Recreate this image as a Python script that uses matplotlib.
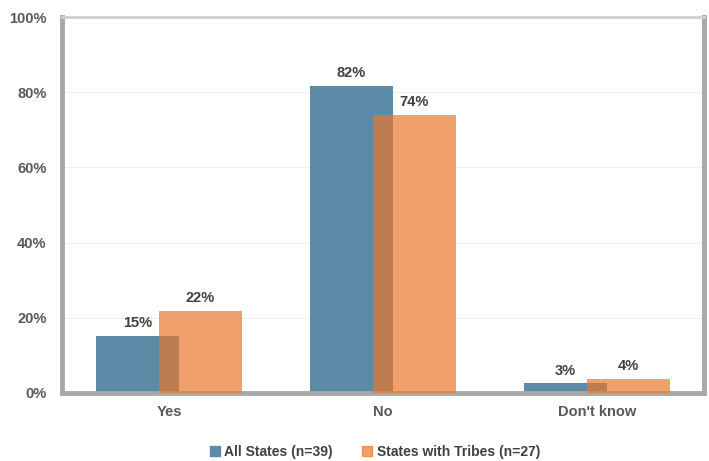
import matplotlib
matplotlib.use("Agg")
import matplotlib.pyplot as plt
import numpy as np
from matplotlib.patches import Patch

categories = ["Yes", "No", "Don't know"]
all_states = [15.2, 81.7, 2.6]
tribes_states = [21.9, 73.9, 3.7]
all_labels = ["15%", "82%", "3%"]
tribe_labels = ["22%", "74%", "4%"]
yticks = [0, 20, 40, 60, 80, 100]
series_names = ["All States (n=39)", "States with Tribes (n=27)"]

plt.rcParams['font.family'] = ['Liberation Sans', 'DejaVu Sans']

blue = '#5b8ba6'
orange = '#ea7628'
fs = 10.5

fig = plt.figure(figsize=(7.09, 4.61), dpi=100)
ax = fig.add_axes([62/709, 1-393/461, (704-62)/709, (393-17)/461])

x = np.arange(len(categories))
w = 0.392
off = 0.147
b1 = ax.bar(x - off, all_states, w, color=blue, zorder=2)
b2 = ax.bar(x + off, tribes_states, w, color=orange, alpha=0.69, zorder=3)

for rect, lab in zip(b1, all_labels):
    ax.text(rect.get_x() + rect.get_width()/2, rect.get_height() + 1.5, lab,
            ha='center', va='bottom', fontsize=fs, fontweight='bold', color='#404040')
for rect, lab in zip(b2, tribe_labels):
    ax.text(rect.get_x() + rect.get_width()/2, rect.get_height() + 1.5, lab,
            ha='center', va='bottom', fontsize=fs, fontweight='bold', color='#404040')

ax.set_xlim(-0.5, 2.5)
ax.set_ylim(0, 100)
ax.set_yticks(yticks)
ax.set_yticklabels([f"{v}%" for v in yticks])
ax.set_xticks(x)
ax.set_xticklabels(categories)
ax.tick_params(axis='both', length=0, labelsize=fs, labelcolor='#595959')
ax.tick_params(axis='y', pad=11)
ax.tick_params(axis='x', pad=9)
for lab in ax.get_xticklabels() + ax.get_yticklabels():
    lab.set_fontweight('bold')

ax.yaxis.grid(True, color='#f0f0f0', linewidth=0.8, zorder=0)
ax.set_axisbelow(True)

for side in ['left', 'right', 'bottom']:
    ax.spines[side].set_color('#a8a8a8')
    ax.spines[side].set_linewidth(3.5)
ax.spines['top'].set_color('#d0d0d0')
ax.spines['top'].set_linewidth(2)

handles = [Patch(color=blue), Patch(color=orange, alpha=0.69)]
fig.legend(handles, series_names, loc='center', bbox_to_anchor=(375/709, 1-452/461),
           ncol=2, frameon=False, handlelength=0.7, handleheight=0.7,
           handletextpad=0.35, columnspacing=2.1,
           prop={'weight': 'bold', 'size': 10})
for t in fig.legends[0].get_texts():
    t.set_color('#404040')

fig.savefig('out.png', dpi=100)
